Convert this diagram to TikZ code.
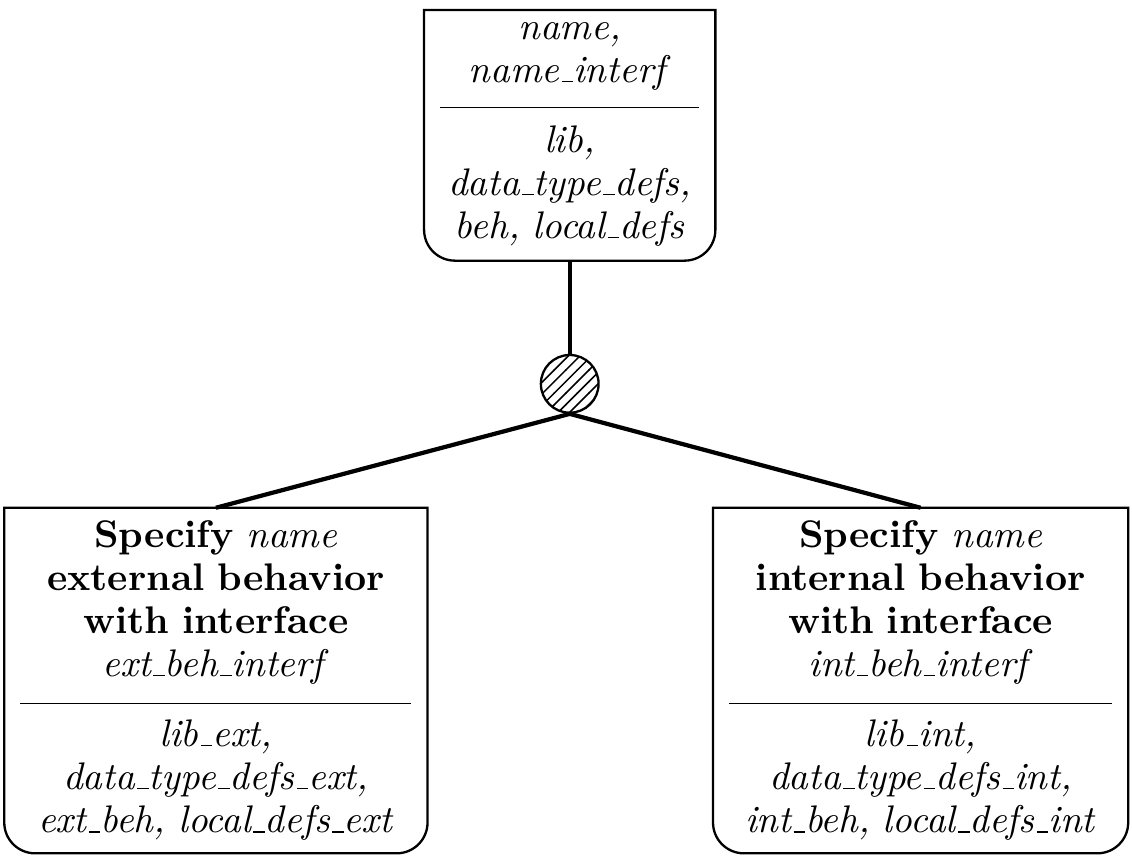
\documentclass[tikz,border=0pt]{standalone}
\usetikzlibrary{patterns}
\tikzset{
  goal/.style={align=center, inner xsep=4pt, inner ysep=2.2pt, font=\fontsize{10}{11.2}\selectfont},
  link/.style={line width=1.1pt},
}
% frame of a goal: square top, rounded bottom
\newcommand{\goalframe}[1]{%
  \draw[semithick] (#1.north west) -- ([yshift=8pt]#1.south west)
    arc[start angle=180,end angle=270,radius=8pt] -- ([xshift=-8pt]#1.south east)
    arc[start angle=270,end angle=360,radius=8pt] -- (#1.north east) -- cycle;}
\newcommand{\goalsep}{\rule{\hsize}{0.4pt}}
\newcommand{\us}{\kern.06em\vbox{\hrule width.3em}}
\begin{document}
\begin{tikzpicture}
\useasboundingbox (0,0) rectangle (10.34,-7.81);
% goals
\node[goal, text width=67.3pt, anchor=north] (spec) at (5.204,-0.091)
  {\rule{0pt}{5.2pt}\textit{name,}\\ \textit{name\us interf}\\[-4.45pt]\goalsep\\[0.2pt]
   \textit{lib,}\\ \textit{data\us type\us defs,}\\ \textit{beh, local\us defs}\rule[-3.4pt]{0pt}{3.4pt}};
\goalframe{spec}
\node[goal, text width=101.6pt, anchor=north] (ext) at (1.972,-4.638)
  {\rule{0pt}{7.8pt}\textbf{Specify} \textit{name}\\ \textbf{external behavior}\\ \textbf{with interface}\\
   \textit{ext\us beh\us interf}\\[-3.9pt]\goalsep\\[-0.3pt]
   \textit{lib\us ext,}\\ \textit{data\us type\us defs\us ext,}\\ \textit{ext\us beh, local\us defs\us ext}\rule[-3pt]{0pt}{3pt}};
\goalframe{ext}
\node[goal, text width=99.5pt, anchor=north] (int) at (8.409,-4.638)
  {\rule{0pt}{7.8pt}\textbf{Specify} \textit{name}\\ \textbf{internal behavior}\\ \textbf{with interface}\\
   \textit{int\us beh\us interf}\\[-3.9pt]\goalsep\\[-0.3pt]
   \textit{lib\us int,}\\ \textit{data\us type\us defs\us int,}\\ \textit{int\us beh, local\us defs\us int}\rule[-3pt]{0pt}{3pt}};
\goalframe{int}
% refinement
\node[circle, draw, semithick, pattern=north east lines, minimum size=15pt, inner sep=0pt] (refine) at (5.204,-3.506) {};
\draw[link] (spec.south) -- (refine.north);
\draw[link] (refine.south) -- (ext.north);
\draw[link] (refine.south) -- (int.north);
\end{tikzpicture}
\end{document}
